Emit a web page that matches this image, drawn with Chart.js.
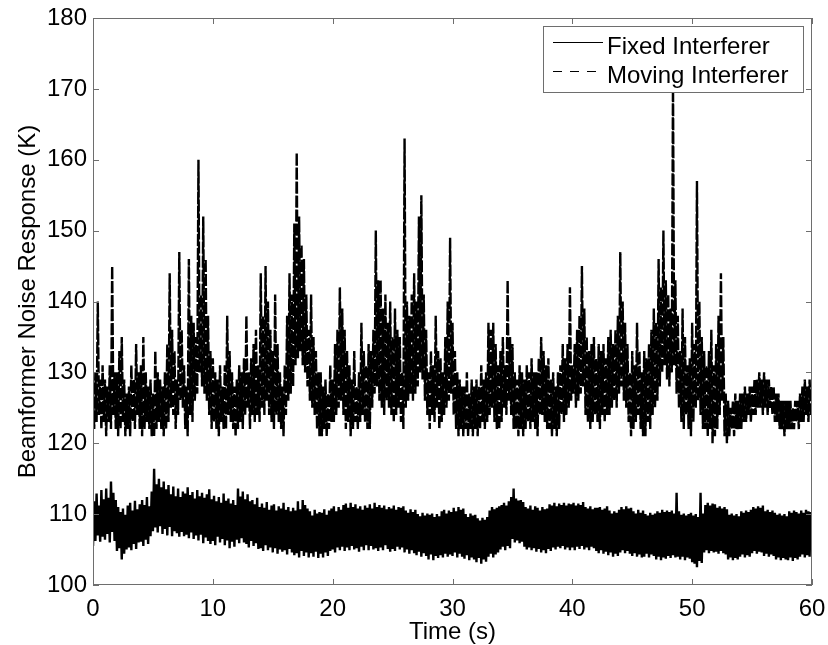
<!DOCTYPE html>
<html>
<head>
<meta charset="utf-8">
<script src="https://cdn.jsdelivr.net/npm/chart.js@4.4.1/dist/chart.umd.min.js"></script>
<style>
  html, body { margin: 0; padding: 0; background: #fff; }
  #wrap { width: 828px; height: 645px; position: relative; }
</style>
</head>
<body>
<div id="wrap"><canvas id="noiseChart"></canvas></div>
<script>
// ── DATA ─────────────────────────────────────────────────────────────────────
// one sample every 0.1 s, t = 0 .. 60 s (one row = 1 second)
const sampleStep = 0.1;
const xTickValues = [0, 10, 20, 30, 40, 50, 60];
const yTickValues = [100, 110, 120, 130, 140, 150, 160, 170, 180];
const seriesLabels = ['Fixed Interferer', 'Moving Interferer'];

const fixedInterferer = [
  105.5, 111.8, 106.2, 112.9, 107.0, 111.2, 106.1, 113.4, 106.8, 112.1,
  106.4, 113.6, 107.2, 112.3, 106.0, 114.6, 107.5, 113.0, 106.2, 112.0,
  104.8, 111.0, 105.2, 110.3, 103.6, 110.8, 104.4, 109.9, 105.0, 111.2,
  105.3, 111.6, 104.9, 110.5, 105.8, 111.9, 105.1, 110.7, 106.0, 111.4,
  106.1, 112.0, 105.5, 111.3, 106.4, 112.4, 105.8, 111.1, 106.9, 113.2,
  107.6, 116.4, 108.1, 114.2, 107.4, 115.0, 108.3, 113.8, 107.2, 114.6,
  107.9, 113.5, 107.0, 114.1, 108.2, 112.8, 106.9, 113.9, 107.6, 112.5,
  107.3, 113.6, 106.8, 112.4, 107.5, 113.2, 106.9, 112.9, 107.1, 113.8,
  106.6, 112.7, 107.4, 113.1, 106.5, 112.2, 107.0, 113.4, 106.3, 112.5,
  107.1, 113.0, 105.9, 112.3, 106.7, 112.8, 106.2, 113.5, 105.8, 112.1,
  106.2, 112.6, 105.6, 111.8, 106.8, 112.4, 106.0, 111.6, 106.5, 112.9,
  105.6, 111.9, 106.3, 112.2, 105.2, 111.5, 106.1, 112.0, 105.4, 111.3,
  106.4, 113.6, 105.9, 112.5, 106.6, 113.2, 106.0, 112.1, 105.8, 112.8,
  105.3, 111.8, 106.2, 112.0, 105.5, 111.4, 105.9, 112.3, 105.1, 111.0,
  105.2, 111.5, 104.8, 110.9, 105.6, 111.7, 104.9, 110.6, 105.3, 111.2,
  104.6, 111.4, 105.2, 110.5, 104.4, 111.1, 105.0, 110.8, 104.7, 111.6,
  104.9, 110.6, 104.3, 111.0, 105.1, 110.4, 104.6, 110.9, 104.2, 110.5,
  104.5, 111.8, 103.9, 110.7, 104.8, 112.0, 104.1, 111.3, 104.6, 110.8,
  103.9, 110.4, 104.5, 109.8, 104.0, 110.6, 104.7, 110.1, 103.8, 110.3,
  104.4, 110.2, 103.9, 110.7, 104.6, 109.9, 104.1, 110.5, 104.8, 110.8,
  105.0, 111.1, 104.6, 110.4, 105.3, 111.0, 104.9, 110.6, 105.4, 111.3,
  104.8, 111.5, 105.3, 110.9, 104.9, 111.6, 105.5, 111.0, 105.0, 111.4,
  105.2, 110.8, 104.7, 111.1, 105.4, 110.6, 104.9, 111.2, 105.6, 110.9,
  104.9, 111.4, 105.5, 110.8, 105.0, 111.6, 105.2, 111.0, 104.8, 111.3,
  105.3, 110.9, 104.9, 111.2, 105.6, 110.7, 105.1, 111.0, 104.7, 110.8,
  105.1, 111.2, 104.8, 110.6, 105.4, 111.0, 105.0, 110.9, 105.3, 111.1,
  104.6, 110.5, 105.0, 110.2, 104.4, 110.7, 104.9, 110.3, 104.5, 110.6,
  104.2, 110.0, 104.7, 109.7, 104.0, 110.2, 104.5, 109.8, 104.1, 110.1,
  103.6, 109.9, 104.3, 110.1, 103.5, 109.6, 104.1, 110.0, 103.8, 109.7,
  104.2, 110.4, 103.9, 110.6, 104.4, 110.1, 104.0, 110.5, 104.3, 110.3,
  104.1, 110.9, 104.6, 110.4, 103.9, 111.0, 104.4, 110.6, 104.0, 110.8,
  103.7, 110.0, 104.2, 109.6, 103.5, 110.1, 103.9, 109.8, 103.6, 109.9,
  103.2, 109.4, 103.8, 109.1, 103.0, 109.5, 103.6, 109.2, 103.3, 109.6,
  104.0, 110.5, 104.4, 111.0, 103.9, 110.7, 104.3, 110.9, 104.6, 111.1,
  105.0, 111.3, 105.4, 111.6, 104.9, 111.2, 105.5, 111.8, 105.2, 112.4,
  106.5, 113.6, 106.0, 112.2, 106.3, 111.9, 105.9, 112.0, 106.1, 111.7,
  105.4, 111.0, 105.0, 110.8, 105.3, 111.2, 104.9, 110.6, 105.2, 111.1,
  104.7, 110.9, 105.1, 110.5, 104.6, 111.0, 104.9, 110.7, 104.5, 110.8,
  105.1, 111.4, 104.8, 111.2, 105.3, 111.6, 105.0, 111.1, 105.4, 111.5,
  105.2, 111.3, 105.5, 111.6, 105.0, 111.2, 105.3, 111.5, 104.9, 111.4,
  105.3, 111.6, 104.9, 111.2, 105.4, 111.5, 105.1, 111.3, 105.5, 111.7,
  105.0, 111.0, 105.3, 110.8, 104.9, 111.1, 105.4, 110.7, 105.2, 110.9,
  104.8, 110.9, 104.5, 111.0, 104.9, 110.6, 104.4, 110.8, 104.7, 111.1,
  104.2, 110.5, 104.6, 110.1, 104.0, 110.4, 104.4, 110.2, 104.1, 110.6,
  104.6, 111.0, 104.9, 110.7, 104.5, 111.1, 104.8, 110.8, 104.4, 110.9,
  104.1, 110.4, 104.5, 110.1, 104.0, 110.6, 104.3, 110.2, 103.9, 110.5,
  104.0, 110.0, 104.4, 109.8, 103.9, 110.2, 104.3, 109.9, 104.1, 110.1,
  103.6, 110.4, 104.0, 110.2, 103.5, 110.6, 103.9, 110.3, 103.7, 110.5,
  104.1, 110.3, 103.8, 110.5, 104.2, 110.1, 103.9, 113.0, 104.0, 110.4,
  103.6, 109.9, 104.0, 110.1, 103.5, 109.8, 103.9, 110.0, 103.7, 110.2,
  103.2, 109.8, 103.0, 110.0, 102.5, 109.6, 103.4, 113.0, 103.1, 110.1,
  104.6, 111.3, 104.9, 111.6, 104.5, 111.2, 104.8, 111.5, 104.6, 111.4,
  104.7, 110.9, 104.4, 111.1, 104.8, 110.8, 104.5, 111.0, 104.3, 110.7,
  103.6, 109.9, 103.9, 110.1, 103.5, 109.8, 103.8, 110.0, 103.6, 109.7,
  104.0, 110.4, 104.3, 110.2, 103.9, 110.5, 104.2, 110.3, 104.0, 110.6,
  104.5, 111.0, 104.8, 110.8, 104.4, 111.1, 104.7, 110.9, 104.6, 111.2,
  104.1, 110.4, 104.4, 110.6, 104.0, 110.3, 104.3, 110.5, 104.1, 110.2,
  103.6, 109.9, 103.9, 110.1, 103.5, 109.8, 103.8, 110.0, 103.6, 109.7,
  103.5, 110.4, 103.9, 110.2, 103.4, 110.5, 103.8, 110.3, 103.6, 110.1,
  104.0, 110.5, 104.3, 110.2, 103.9, 110.6, 104.2, 110.4, 104.0, 110.3,
  107.0
];

const movingInterferer = [
  127, 122, 130, 123, 140, 124, 129, 122, 131, 123,
  129, 121, 128, 123, 131, 122, 145, 124, 130, 122,
  130, 121, 133, 122, 135, 123, 129, 121, 127, 122,
  128, 121, 131, 123, 129, 122, 134, 124, 130, 122,
  131, 121, 135, 122, 130, 123, 128, 122, 129, 121,
  127, 121, 133, 122, 130, 123, 129, 122, 128, 121,
  130, 122, 134, 123, 144, 125, 136, 124, 133, 122,
  129, 124, 147, 126, 136, 125, 131, 122, 128, 121,
  146, 124, 138, 123, 137, 126, 135, 127, 160, 130,
  141, 128, 152, 127, 146, 126, 138, 124, 133, 122,
  132, 123, 130, 122, 129, 121, 131, 123, 128, 122,
  131, 122, 138, 124, 133, 123, 130, 122, 128, 121,
  129, 122, 131, 123, 130, 122, 132, 124, 138, 125,
  130, 122, 132, 124, 134, 123, 136, 124, 131, 123,
  144, 125, 138, 124, 145, 126, 140, 124, 136, 123,
  133, 122, 141, 124, 134, 123, 130, 122, 128, 121,
  131, 124, 138, 126, 144, 127, 141, 128, 151, 131,
  161, 132, 152, 133, 148, 131, 146, 130, 141, 128,
  136, 126, 141, 125, 135, 124, 133, 122, 130, 121,
  130, 121, 128, 122, 129, 121, 127, 122, 131, 123,
  129, 123, 134, 124, 136, 125, 142, 126, 139, 124,
  136, 122, 133, 123, 131, 121, 129, 122, 133, 123,
  128, 122, 130, 123, 137, 124, 133, 123, 131, 122,
  134, 122, 133, 125, 136, 127, 150, 128, 143, 126,
  143, 125, 139, 124, 141, 126, 137, 125, 140, 124,
  135, 123, 139, 124, 136, 125, 135, 123, 130, 122,
  163, 125, 140, 126, 138, 127, 141, 126, 144, 127,
  140, 128, 152, 130, 155, 129, 141, 126, 136, 124,
  130, 122, 133, 124, 131, 123, 138, 125, 133, 122,
  132, 123, 130, 124, 135, 125, 140, 126, 149, 127,
  137, 124, 133, 122, 130, 121, 129, 122, 128, 121,
  128, 122, 130, 121, 127, 122, 129, 121, 128, 122,
  129, 121, 128, 122, 131, 123, 129, 122, 130, 123,
  137, 124, 136, 125, 137, 123, 134, 122, 131, 122,
  133, 123, 135, 125, 131, 124, 143, 126, 135, 124,
  134, 122, 130, 122, 129, 121, 131, 122, 130, 121,
  129, 122, 131, 123, 130, 122, 132, 123, 130, 122,
  130, 121, 132, 124, 135, 124, 133, 123, 131, 122,
  132, 122, 129, 121, 130, 122, 128, 121, 130, 122,
  131, 124, 134, 123, 132, 124, 134, 125, 142, 126,
  131, 127, 134, 125, 136, 126, 138, 127, 145, 128,
  139, 124, 135, 123, 133, 122, 134, 123, 135, 124,
  132, 123, 134, 122, 133, 124, 134, 123, 132, 124,
  135, 124, 136, 125, 134, 126, 136, 125, 138, 127,
  147, 128, 140, 126, 137, 125, 134, 123, 130, 121,
  133, 122, 131, 123, 137, 124, 133, 122, 130, 121,
  133, 121, 132, 123, 134, 122, 136, 124, 139, 125,
  137, 126, 146, 128, 142, 130, 150, 131, 143, 129,
  141, 128, 139, 130, 171, 131, 143, 127, 138, 125,
  133, 123, 139, 122, 135, 124, 131, 122, 132, 121,
  137, 123, 134, 125, 157, 126, 140, 124, 135, 122,
  133, 122, 131, 121, 133, 122, 136, 120, 131, 121,
  134, 122, 138, 124, 144, 126, 135, 121, 127, 120,
  126, 121, 125, 122, 126, 121, 127, 122, 126, 122,
  127, 122, 127, 123, 128, 123, 127, 124, 128, 123,
  128, 124, 129, 124, 129, 125, 130, 125, 129, 124,
  130, 125, 129, 124, 129, 125, 128, 124, 128, 123,
  127, 123, 127, 122, 126, 122, 126, 121, 126, 122,
  126, 122, 126, 122, 125, 122, 126, 123, 126, 122,
  127, 123, 128, 123, 129, 124, 128, 123, 129, 124,
  125
];

// ── STYLE ────────────────────────────────────────────────────────────────────
const FONT = 'Liberation Sans, Arial, Helvetica, sans-serif';
const axisGrey = '#6e6e6e';
const movingDash = [12, 2];
const legendDash = [9, 8];

Chart.defaults.font.family = FONT;
Chart.defaults.font.size = 24;
Chart.defaults.color = '#000';

function toPoints(vals) {
  return vals.map((v, i) => ({ x: +(i * sampleStep).toFixed(2), y: v }));
}

// matlab-ish box, inward ticks and the boxed legend top right
const matlabFrame = {
  id: 'matlabFrame',
  afterDraw(chart) {
    const { ctx, chartArea: a, scales: { x, y } } = chart;
    const tl = 6;
    ctx.save();
    ctx.strokeStyle = axisGrey;
    ctx.lineWidth = 1;
    ctx.strokeRect(a.left + 0.5, a.top + 0.5, a.right - a.left - 1, a.bottom - a.top - 1);
    ctx.beginPath();
    x.ticks.forEach(t => {
      const px = Math.round(x.getPixelForValue(t.value)) + 0.5;
      ctx.moveTo(px, a.bottom); ctx.lineTo(px, a.bottom - tl);
      ctx.moveTo(px, a.top); ctx.lineTo(px, a.top + tl);
    });
    y.ticks.forEach(t => {
      const py = Math.round(y.getPixelForValue(t.value)) + 0.5;
      ctx.moveTo(a.left, py); ctx.lineTo(a.left + tl, py);
      ctx.moveTo(a.right, py); ctx.lineTo(a.right - tl, py);
    });
    ctx.stroke();

    // legend
    const bx = 543, by = 26, bw = 261, bh = 67;
    ctx.fillStyle = '#fff';
    ctx.fillRect(bx, by, bw, bh);
    ctx.strokeRect(bx + 0.5, by + 0.5, bw - 1, bh - 1);
    const rows = [42.5, 71.5];
    chart.data.datasets.forEach((ds, i) => {
      ctx.save();
      ctx.strokeStyle = ds.borderColor;
      ctx.lineWidth = 1;
      ctx.setLineDash(ds.borderDash ? legendDash : []);
      ctx.beginPath();
      ctx.moveTo(553, rows[i]); ctx.lineTo(603, rows[i]);
      ctx.stroke();
      ctx.restore();
      ctx.fillStyle = '#000';
      ctx.font = '24px ' + FONT;
      ctx.textBaseline = 'alphabetic';
      ctx.textAlign = 'left';
      ctx.fillText(ds.label, 607, rows[i] + 11);
    });
    ctx.restore();
  }
};

const chart = new Chart(document.getElementById('noiseChart'), {
  type: 'line',
  data: {
    datasets: [
      {
        label: seriesLabels[0], data: toPoints(fixedInterferer),
        borderColor: '#000', borderWidth: 2.4, borderJoinStyle: 'bevel',
        pointRadius: 0, tension: 0
      },
      {
        label: seriesLabels[1], data: toPoints(movingInterferer),
        borderColor: '#000', borderWidth: 2.4, borderJoinStyle: 'bevel', borderDash: movingDash,
        pointRadius: 0, tension: 0
      }
    ]
  },
  options: {
    responsive: true, maintainAspectRatio: false, animation: false,
    layout: { padding: { top: 18, right: 16, left: 0, bottom: 0 } },
    plugins: { legend: { display: false }, tooltip: { enabled: false } },
    scales: {
      x: {
        type: 'linear', min: 0, max: 60,
        afterBuildTicks: s => { s.ticks = xTickValues.map(v => ({ value: v })); },
        afterFit: s => { s.height = 60; s.paddingLeft = 0; s.paddingRight = 0; },
        grid: { display: false, drawTicks: false },
        border: { display: false },
        ticks: { padding: 10, maxRotation: 0, font: { size: 24 } },
        title: { display: true, text: 'Time (s)', font: { size: 24, lineHeight: 1 }, padding: { bottom: 1 } }
      },
      y: {
        type: 'linear', min: 100, max: 180,
        afterBuildTicks: s => { s.ticks = yTickValues.map(v => ({ value: v })); },
        afterFit: s => { s.width = 93; s.paddingTop = 0; s.paddingBottom = 0; },
        grid: { display: false, drawTicks: false },
        border: { display: false },
        ticks: { padding: 6, font: { size: 24 } },
        title: { display: true, text: 'Beamformer Noise Response (K)', font: { size: 24, lineHeight: 1 }, padding: { top: 16 } }
      }
    }
  },
  plugins: [matlabFrame]
});
</script>
</body>
</html>
